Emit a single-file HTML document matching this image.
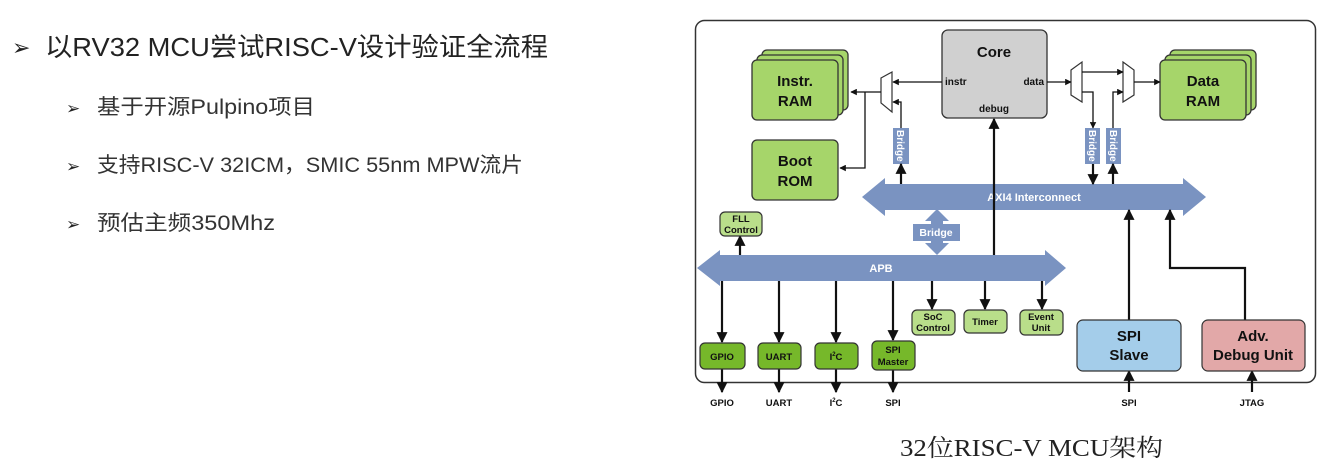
<!DOCTYPE html>
<html><head><meta charset="utf-8"><style>
html,body{margin:0;padding:0;background:#fff;width:1324px;height:470px;overflow:hidden}
svg{position:absolute;left:0;top:0}
.b{font-family:"Liberation Sans",sans-serif;font-weight:bold}
</style></head><body>
<svg width="1324" height="470" viewBox="0 0 1324 470">
<defs>
<marker id="a" viewBox="0 0 10 10" refX="9" refY="5" markerWidth="5" markerHeight="5" orient="auto"><path d="M0,0L10,5L0,10z" fill="#111"/></marker>
</defs>
<g font-family="'Liberation Sans','Noto Sans CJK SC',sans-serif" fill="#222">
<text x="12" y="55" font-size="22">➢</text>
<text x="45" y="56" font-size="26" textLength="503" lengthAdjust="spacingAndGlyphs">以RV32 MCU尝试RISC-V设计验证全流程</text>
<text x="66" y="114" font-size="17">➢</text>
<text x="97" y="114" font-size="21" fill="#333" textLength="218" lengthAdjust="spacingAndGlyphs">基于开源Pulpino项目</text>
<text x="66" y="172" font-size="17">➢</text>
<text x="97" y="172" font-size="21" fill="#333" textLength="426" lengthAdjust="spacingAndGlyphs">支持RISC-V 32ICM，SMIC 55nm MPW流片</text>
<text x="66" y="230" font-size="17">➢</text>
<text x="97" y="230" font-size="21" fill="#333" textLength="178" lengthAdjust="spacingAndGlyphs">预估主频350Mhz</text>
</g>
<text x="900" y="456" font-family="'Liberation Serif','Noto Serif CJK SC',serif" font-size="24" fill="#222" textLength="263" lengthAdjust="spacingAndGlyphs">32位RISC-V MCU架构</text>

<rect x="695.5" y="20.5" width="620" height="362" rx="9" fill="#fff" stroke="#333" stroke-width="1.5"/>

<!-- buses -->
<path d="M862,197 L885,178 L885,184 L1183,184 L1183,178 L1206,197 L1183,216 L1183,210 L885,210 L885,216 Z" fill="#7a93c1"/>
<text x="1034" y="201" class="b" font-size="11" fill="#fff" text-anchor="middle">AXI4 Interconnect</text>
<path d="M697,268 L720,250 L720,255 L1045,255 L1045,250 L1066,268 L1045,286 L1045,281 L720,281 L720,286 Z" fill="#7a93c1"/>
<text x="881" y="272" class="b" font-size="11" fill="#fff" text-anchor="middle">APB</text>
<path d="M937,209 L949,221 L943,221 L943,243 L949,243 L937,255 L925,243 L931,243 L931,221 L925,221 Z" fill="#7a93c1"/>
<rect x="913" y="224" width="47" height="17" fill="#7a93c1"/>
<text x="936" y="236" class="b" font-size="10.5" fill="#fff" text-anchor="middle">Bridge</text>

<!-- RAMs -->
<g stroke="#333" stroke-width="1.3" fill="#a6d56a">
<rect x="762" y="50" width="86" height="60" rx="5"/>
<rect x="757" y="55" width="86" height="60" rx="5"/>
<rect x="752" y="60" width="86" height="60" rx="5"/>
<rect x="752" y="140" width="86" height="60" rx="5"/>
<rect x="1170" y="50" width="86" height="60" rx="5"/>
<rect x="1165" y="55" width="86" height="60" rx="5"/>
<rect x="1160" y="60" width="86" height="60" rx="5"/>
</g>
<g class="b" font-size="15" fill="#111" text-anchor="middle">
<text x="795" y="86">Instr.</text><text x="795" y="106">RAM</text>
<text x="795" y="166">Boot</text><text x="795" y="186">ROM</text>
<text x="1203" y="86">Data</text><text x="1203" y="106">RAM</text>
</g>

<!-- Core -->
<rect x="942" y="30" width="105" height="88" rx="6" fill="#d0d0d0" stroke="#333" stroke-width="1.3"/>
<text x="994" y="57" class="b" font-size="15" text-anchor="middle" fill="#111">Core</text>
<text x="945" y="85" class="b" font-size="10" fill="#111">instr</text>
<text x="1044" y="85" class="b" font-size="10" fill="#111" text-anchor="end">data</text>
<text x="994" y="112" class="b" font-size="10" fill="#111" text-anchor="middle">debug</text>

<!-- muxes -->
<g fill="#fff" stroke="#333" stroke-width="1.2">
<path d="M881,78 L892,72 L892,112 L881,103 Z"/>
<path d="M1071,70 L1082,62 L1082,102 L1071,95 Z"/>
<path d="M1123,62 L1134,70 L1134,95 L1123,102 Z"/>
</g>
<!-- bridges vertical -->
<g fill="#7a93c1">
<rect x="893" y="128" width="16" height="36"/>
<rect x="1085" y="128" width="15" height="36"/>
<rect x="1106" y="128" width="15" height="36"/>
</g>
<g class="b" font-size="10" fill="#fff">
<text transform="translate(897,130) rotate(90)">Bridge</text>
<text transform="translate(1089,130) rotate(90)">Bridge</text>
<text transform="translate(1110,130) rotate(90)">Bridge</text>
</g>

<g stroke="#111" stroke-width="1.3" fill="none" marker-end="url(#a)">
<path d="M942,82 L893,82"/>
<path d="M881,92 L851,92"/>
<path d="M865,92 L865,168 L840,168"/>
<path d="M901,128 L901,102 L893,102"/>
<path d="M1047,82 L1071,82"/>
<path d="M1082,72 L1123,72"/>
<path d="M1082,92 L1093,92 L1093,128"/>
<path d="M1113,128 L1113,92 L1123,92"/>
<path d="M1134,82 L1160,82"/>
</g>
<g stroke="#111" stroke-width="2.2" fill="none" marker-end="url(#a)">
<path d="M901,184 L901,164"/>
<path d="M1093,164 L1093,184"/>
<path d="M1113,184 L1113,164"/>
<path d="M994,255 L994,119"/>
<path d="M1129,320 L1129,210"/>
<path d="M1245,320 L1245,268 L1170,268 L1170,210"/>
<path d="M740,255 L740,236"/>
<path d="M722,281 L722,342"/>
<path d="M779,281 L779,342"/>
<path d="M836,281 L836,342"/>
<path d="M893,281 L893,340"/>
<path d="M932,281 L932,309"/>
<path d="M985,281 L985,309"/>
<path d="M1042,281 L1042,309"/>
<path d="M722,369 L722,392"/>
<path d="M779,369 L779,392"/>
<path d="M836,369 L836,392"/>
<path d="M893,370 L893,392"/>
<path d="M1129,392 L1129,371"/>
<path d="M1252,392 L1252,371"/>
</g>

<!-- peripherals -->
<g stroke="#333" stroke-width="1.2">
<rect x="720" y="212" width="42" height="24" rx="5" fill="#b9de8a"/>
<rect x="912" y="310" width="43" height="25" rx="5" fill="#b9de8a"/>
<rect x="964" y="310" width="43" height="23" rx="5" fill="#b9de8a"/>
<rect x="1020" y="310" width="43" height="25" rx="5" fill="#b9de8a"/>
<rect x="700" y="343" width="45" height="26" rx="5" fill="#76b82a"/>
<rect x="758" y="343" width="43" height="26" rx="5" fill="#76b82a"/>
<rect x="815" y="343" width="43" height="26" rx="5" fill="#76b82a"/>
<rect x="872" y="341" width="43" height="29" rx="5" fill="#76b82a"/>
<rect x="1077" y="320" width="104" height="51" rx="6" fill="#a4cdea"/>
<rect x="1202" y="320" width="103" height="51" rx="6" fill="#e2a8a8"/>
</g>
<g class="b" fill="#111" text-anchor="middle">
<g font-size="9.5">
<text x="741" y="222">FLL</text><text x="741" y="233">Control</text>
<text x="933" y="320">SoC</text><text x="933" y="331">Control</text>
<text x="985" y="325">Timer</text>
<text x="1041" y="320">Event</text><text x="1041" y="331">Unit</text>
<text x="722" y="360">GPIO</text>
<text x="779" y="360">UART</text>
<text x="836" y="360">I<tspan font-size="6" dy="-4">2</tspan><tspan dy="4">C</tspan></text>
<text x="893" y="353">SPI</text><text x="893" y="365">Master</text>
</g>
<g font-size="15">
<text x="1129" y="341">SPI</text><text x="1129" y="360">Slave</text>
<text x="1253" y="341">Adv.</text><text x="1253" y="360">Debug Unit</text>
</g>
<g font-size="9.5">
<text x="722" y="406">GPIO</text>
<text x="779" y="406">UART</text>
<text x="836" y="406">I<tspan font-size="6" dy="-4">2</tspan><tspan dy="4">C</tspan></text>
<text x="893" y="406">SPI</text>
<text x="1129" y="406">SPI</text>
<text x="1252" y="406">JTAG</text>
</g>
</g>
</svg>
</body></html>
